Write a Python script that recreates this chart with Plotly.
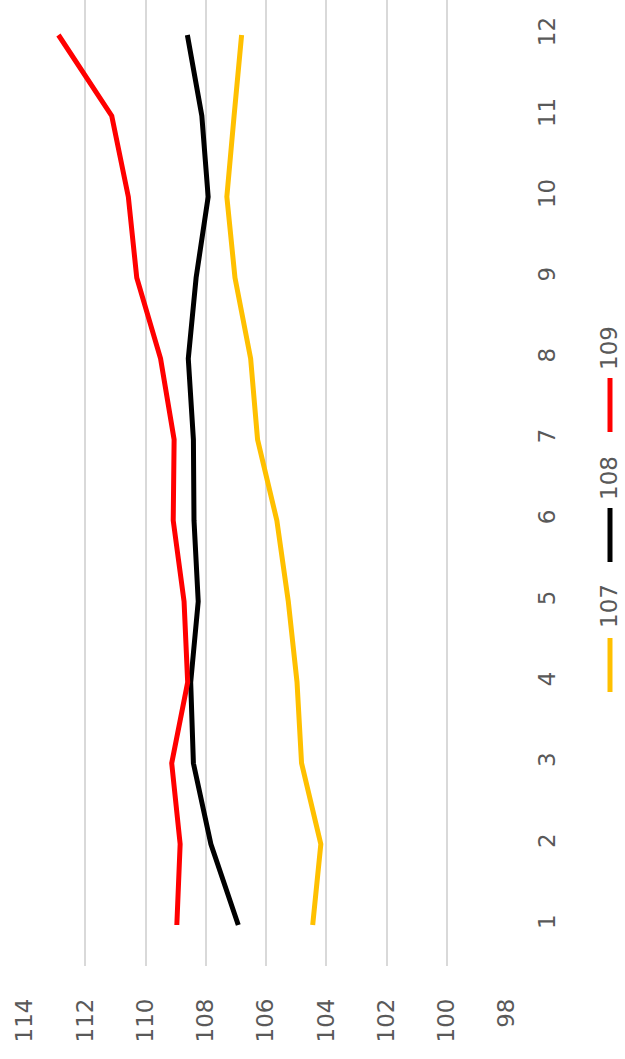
import plotly.graph_objects as go

categories = [1, 2, 3, 4, 5, 6, 7, 8, 9, 10, 11, 12]
series_names = ["107", "108", "109"]
values_107 = [104.45, 104.18, 104.82, 104.97, 105.26, 105.64, 106.28, 106.51, 107.03, 107.30, 107.06, 106.81]
values_108 = [106.92, 107.83, 108.41, 108.50, 108.25, 108.39, 108.41, 108.58, 108.32, 107.92, 108.13, 108.61]
values_109 = [108.96, 108.85, 109.13, 108.60, 108.72, 109.08, 109.05, 109.50, 110.29, 110.57, 111.12, 112.89]
value_ticks = [98, 100, 102, 104, 106, 108, 110, 112, 114]
colors = ["#FFC000", "#000000", "#FF0000"]

W, H = 625, 1059
L, R, T, B = 25, 118, 0, 93
FONT = "DejaVu Sans"
GREY = "#595959"

fig = go.Figure()
for name, vals, col in zip(series_names, [values_107, values_108, values_109], colors):
    fig.add_trace(go.Scatter(x=vals, y=categories, mode="lines", name=name,
                             line=dict(color=col, width=5), showlegend=False,
                             hoverinfo="skip"))

def px_x(px):
    return (px - L) / (W - L - R)

def px_y(py):
    return 1 - (py - T) / (H - T - B)

# custom rotated legend (bottom-to-top)
leg_lines = [(638, 692), (508, 562), (378, 432)]
leg_text = [606, 478, 348]
for name, col, (y0, y1), ty in zip(series_names, colors, leg_lines, leg_text):
    fig.add_shape(type="line", xref="paper", yref="paper",
                  x0=px_x(610), x1=px_x(610), y0=px_y(y0), y1=px_y(y1),
                  line=dict(color=col, width=5))
    fig.add_annotation(xref="paper", yref="paper", x=px_x(609), y=px_y(ty),
                       text=name, textangle=-90, showarrow=False,
                       font=dict(family=FONT, size=23, color=GREY),
                       xanchor="center", yanchor="middle")

fig.update_layout(
    width=W, height=H,
    margin=dict(l=L, r=R, t=T, b=B),
    paper_bgcolor="white", plot_bgcolor="white",
    xaxis=dict(range=[114, 98], tickvals=value_ticks, ticktext=[str(v) for v in value_ticks],
               tickangle=-90, showgrid=True, gridcolor="#D9D9D9", gridwidth=1.5,
               zeroline=False, showline=False, ticks="",
               ticklabelstandoff=27,
               tickfont=dict(family=FONT, size=23, color=GREY)),
    yaxis=dict(range=[0.4933, 12.4326], tickvals=categories, ticktext=[str(c) for c in categories],
               side="right", tickangle=-90, showgrid=False, zeroline=False, showline=False,
               ticks="", ticklabelstandoff=24,
               tickfont=dict(family=FONT, size=23, color=GREY)),
)

fig.write_html("out.html", config={"displayModeBar": False},
               post_script="document.body.style.margin='0';")
